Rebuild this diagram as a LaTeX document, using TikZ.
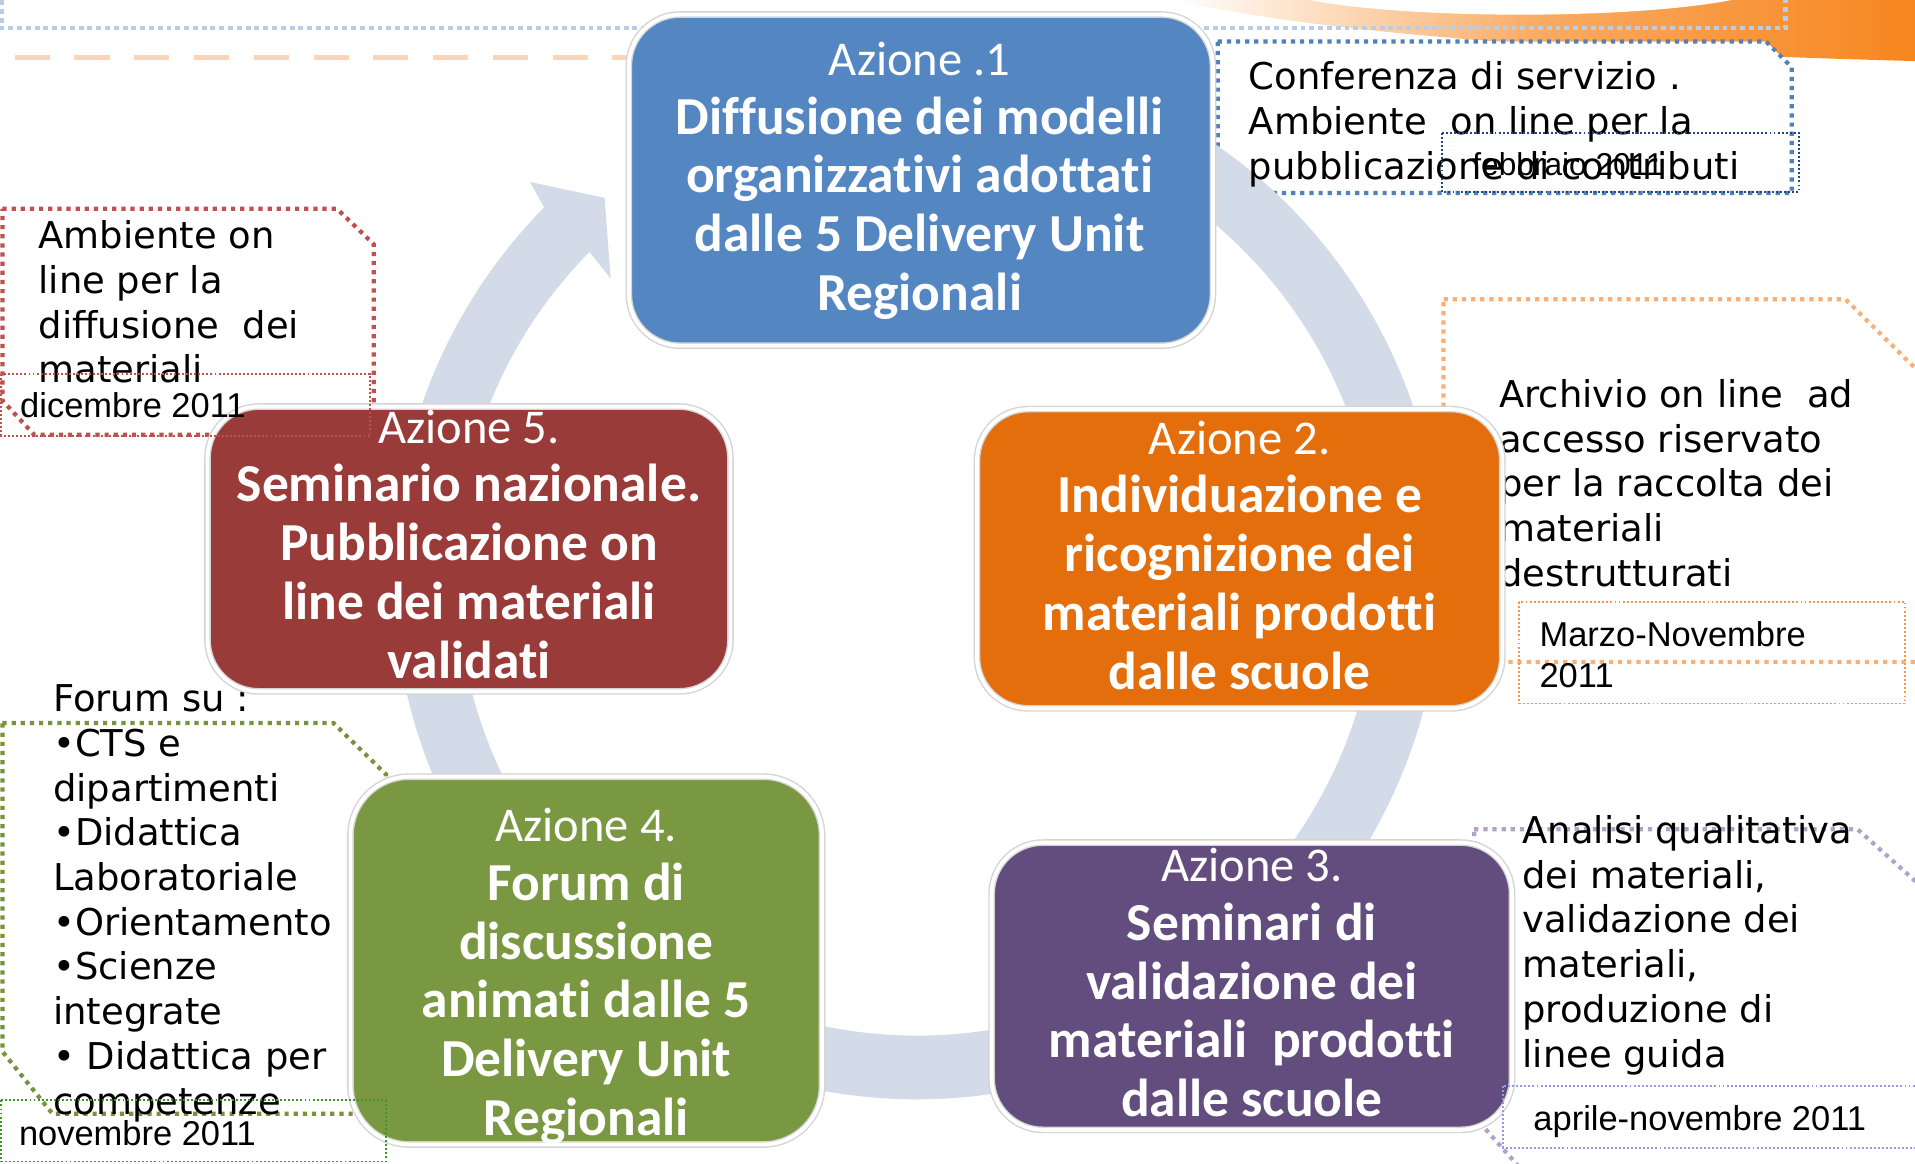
\documentclass[tikz,border=0pt]{standalone}
\usepackage{fontspec}
\newfontfamily\calibfont{Carlito}[Ligatures=NoCommon]
\newfontfamily\dejafont{DejaVu Sans}
\newfontfamily\arialfont{Liberation Sans}
\newcommand\azionefont{\mdseries\fontsize{13.8}{16.7}\selectfont}
\definecolor{bandc}{RGB}{211,218,232}
\definecolor{boxa}{RGB}{84,134,193}
\definecolor{boxb}{RGB}{228,110,12}
\definecolor{boxc}{RGB}{98,77,126}
\definecolor{boxd}{RGB}{122,152,66}
\definecolor{boxe}{RGB}{153,59,57}
\definecolor{ringc}{RGB}{212,212,212}
\definecolor{swc}{RGB}{247,134,30}
\definecolor{fblue}{RGB}{79,129,189}
\definecolor{fred}{RGB}{192,80,77}
\definecolor{forange}{RGB}{248,176,118}
\definecolor{fgreen}{RGB}{119,147,60}
\definecolor{fpurple}{RGB}{179,162,199}
\definecolor{lblue}{RGB}{185,205,229}
\definecolor{peach}{RGB}{251,213,181}
\definecolor{dblue}{RGB}{31,73,125}
\definecolor{dorange}{RGB}{247,150,70}
\definecolor{dgreen}{RGB}{60,150,40}
\definecolor{dviolet}{RGB}{150,150,240}
\begin{document}
\begin{tikzpicture}[x=0.012213cm,y=-0.012213cm,
  frame/.style={line width=1.2pt, dash pattern=on 1.2pt off 1.4pt, fill=white},
  thindot/.style={line width=0.55pt, dash pattern=on 0.55pt off 0.6pt},
  mbox/.style={rectangle, rounded corners=14.6pt, draw=ringc, double=white, double distance=1.1pt, line width=0.4pt, inner sep=0pt},
  btxt/.style={text=white, align=center, inner sep=0pt, font=\calibfont\bfseries\fontsize{15.2}{16.7}\selectfont},
  ctxt/.style={anchor=north west, align=left, inner sep=0pt, font=\dejafont\fontsize{10.5}{12.72}\selectfont},
  dtxt/.style={anchor=base west, inner sep=0pt, font=\arialfont\fontsize{9.8}{11.8}\selectfont}]
\useasboundingbox (0,0) rectangle (1568,953);
\clip (0,0) rectangle (1568,953);
\fill[white] (0,0) rectangle (1568,953);

% top decorations
\shade[left color=white, right color=swc, middle color=swc!70] (960,0) -- (1568,0) -- (1568,50) .. controls (1420,46) and (1120,36) .. (960,0) -- cycle;
\fill[white] (1245,-14) ellipse [x radius=205, y radius=26];
\draw[lblue, line width=1.3pt, dash pattern=on 1.4pt off 1.1pt] (1,0) -- (1,23) -- (1462,23) -- (1462,0);
\draw[peach, line width=1.2pt, dash pattern=on 10pt off 7pt] (12,47) -- (515,47);

% callout frames
\draw[frame, draw=fblue] (997,34) -- (1446,34) -- (1467,55) -- (1467,158) -- (1017,158) -- (997,138) -- cycle;
\draw[frame, draw=fred] (2,171) -- (276,171) -- (306,200) -- (306,356) -- (28,356) -- (2,328) -- cycle;
\draw[frame, draw=forange] (1182,245) -- (1511,245) -- (1590,323) -- (1590,542) -- (1226,542) -- (1182,498) -- cycle;
\draw[frame, draw=fgreen] (2,592) -- (273,592) -- (316,634) -- (316,912) -- (43,912) -- (2,861) -- cycle;
\draw[frame, draw=fpurple] (1207,679) -- (1521,679) -- (1590,741) -- (1590,985) -- (1270,985) -- (1207,914) -- cycle;

% circular arrow band
\fill[bandc] (932.3,82.2) arc[start angle=-65, end angle=224.6, radius=429]
  -- (434,149) -- (495,162) -- (500,228) -- (482.6,206.3)
  arc[start angle=224.6, end angle=-65, radius=377] -- cycle;

% callout texts
\node[ctxt] (c1) at (1022,50) {Conferenza di servizio .\\Ambiente\ \ on line per la\\pubblicazione di contributi};
\node[ctxt] (c5) at (31,180) {Ambiente on\\line per la\\diffusione\ \ dei\\materiali};
\node[ctxt] (c2) at (1227,310) {Archivio on line\ \ ad\\accesso riservato\\per la raccolta dei\\materiali\\destrutturati};
\node[ctxt] (c4) at (43,560) {Forum su :\\•CTS e\\dipartimenti\\•Didattica\\Laboratoriale\\•Orientamento\\•Scienze\\integrate\\• Didattica per\\competenze};
\node[ctxt] (c3) at (1246,667) {Analisi qualitativa\\dei materiali,\\validazione dei\\materiali,\\produzione di\\linee guida};

% main boxes
\node[mbox, fill=boxa, minimum width=166.1pt, minimum height=94.2pt] (a1) at (754,147.5) {};
\node[mbox, fill=boxb, minimum width=149.4pt, minimum height=85.1pt] (a2) at (1015,457.5) {};
\node[mbox, fill=boxc, minimum width=148.0pt, minimum height=81.7pt] (a3) at (1025,807.5) {};
\node[mbox, fill=boxd, minimum width=134.1pt, minimum height=104.6pt, rounded corners=16.7pt] (a4) at (480,786.5) {};
\node[mbox, fill=boxe, minimum width=148.7pt, minimum height=81.0pt] (a5) at (384,449.5) {};

\node[btxt] (t1) at (753,148) {{\azionefont Azione .1}\\Diffusione dei modelli\\organizzativi adottati\\dalle 5 Delivery Unit\\Regionali};
\node[btxt] (t2) at (1015,454.5) {{\azionefont Azione 2.}\\Individuazione e\\ricognizione dei\\materiali prodotti\\dalle scuole};
\node[btxt] (t3) at (1025,804.5) {{\azionefont Azione 3.}\\Seminari di\\validazione dei\\materiali\ \ prodotti\\dalle scuole};
\node[btxt] (t4) at (480,799.5) {{\azionefont Azione 4.}\\Forum di\\discussione\\animati dalle 5\\Delivery Unit\\Regionali};
\node[btxt] (t5) at (384,445.5) {{\azionefont Azione 5.}\\Seminario nazionale.\\Pubblicazione on\\line dei materiali\\validati};

% date frames
\draw[thindot, fred] (1,306) rectangle (303,357);
\draw[thindot, dblue] (1181,109) rectangle (1473,157);
\draw[thindot, dorange] (1244,493) rectangle (1560,576);
\draw[thindot, dgreen] (1,901) rectangle (316,951);
\draw[thindot, dviolet] (1231,889) rectangle (1590,940);

% date texts
\node[dtxt] (d5) at (16,342) {dicembre 2011};
\node[dtxt, font=\arialfont\fontsize{9}{10.5}\selectfont] (d1) at (1205,144) {febbraio 2011};
\node[dtxt, anchor=north west, align=left] (d2) at (1260,508) {Marzo-Novembre\\2011};
\node[dtxt] (d4) at (15,938) {novembre 2011};
\node[dtxt] (d3) at (1255,926) {aprile-novembre 2011};
\end{tikzpicture}
\end{document}
